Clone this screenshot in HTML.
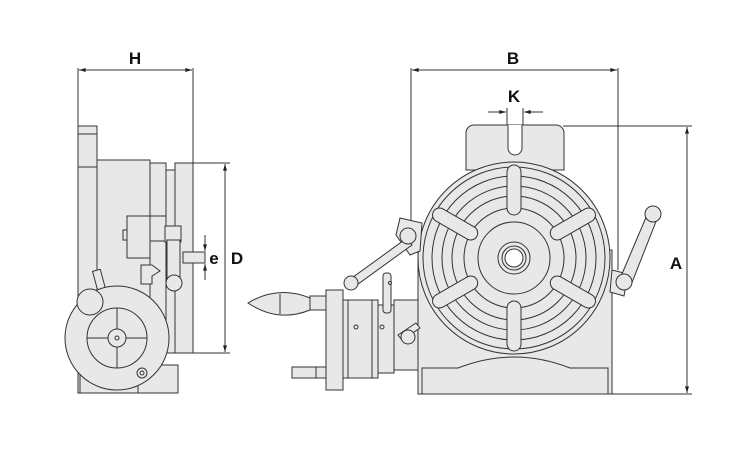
<!DOCTYPE html>
<html><head><style>body{margin:0;background:#fff}svg{display:block}</style></head><body>
<svg width="755" height="467" viewBox="0 0 755 467" xmlns="http://www.w3.org/2000/svg" font-family="Liberation Sans, sans-serif">
<defs><marker id="ar" viewBox="0 0 10 6" refX="10" refY="3" markerWidth="8" markerHeight="4" orient="auto-start-reverse"><path d="M0,0L10,3L0,6z" fill="#222"/></marker></defs>
<g stroke="#333" stroke-width="1" fill="none">
<!-- dims left -->
<line x1="78" y1="68" x2="78" y2="126"/><line x1="193" y1="68" x2="193" y2="163"/>
<line x1="79" y1="70" x2="192" y2="70" marker-start="url(#ar)" marker-end="url(#ar)"/>
<line x1="193" y1="163" x2="230" y2="163"/><line x1="193" y1="353" x2="230" y2="353"/>
<line x1="225" y1="164" x2="225" y2="352" marker-start="url(#ar)" marker-end="url(#ar)"/>
<line x1="205" y1="235" x2="205" y2="251" marker-end="url(#ar)"/><line x1="205" y1="280" x2="205" y2="264" marker-end="url(#ar)"/>
<!-- dims right -->
<line x1="411" y1="68" x2="411" y2="230"/><line x1="618" y1="68" x2="618" y2="270"/>
<line x1="412" y1="70" x2="617" y2="70" marker-start="url(#ar)" marker-end="url(#ar)"/>
<line x1="507" y1="108" x2="507" y2="127"/><line x1="523" y1="108" x2="523" y2="127"/>
<line x1="488" y1="112" x2="506" y2="112" marker-end="url(#ar)"/><line x1="543" y1="112" x2="524" y2="112" marker-end="url(#ar)"/>
<line x1="563" y1="126" x2="692" y2="126"/><line x1="612" y1="394" x2="692" y2="394"/>
<line x1="687" y1="127" x2="687" y2="393" marker-start="url(#ar)" marker-end="url(#ar)"/>
</g>
<g font-weight="bold" font-size="17" fill="#111" text-anchor="middle">
<text x="135" y="64">H</text><text x="513" y="64">B</text><text x="514" y="102">K</text>
<text x="676" y="269">A</text><text x="237" y="264">D</text><text x="214" y="264">e</text>
</g>
<g stroke="#333" stroke-width="1" fill="#e8e8e8">
<!-- LEFT VIEW -->
<rect x="78" y="126" width="19" height="267"/><line x1="78" y1="134" x2="97" y2="134"/><line x1="78" y1="167" x2="97" y2="167"/>
<rect x="97" y="160" width="53" height="233"/>
<rect x="150" y="163" width="16" height="192"/>
<rect x="166" y="170" width="9" height="183"/>
<rect x="175" y="163" width="18" height="190"/>
<rect x="127" y="216" width="23" height="42"/><rect x="123" y="230" width="4" height="10"/>
<rect x="150" y="216" width="16" height="25"/>
<rect x="165" y="226" width="16" height="16"/>
<rect x="167" y="240" width="13" height="46"/>
<circle cx="174" cy="283" r="8"/>
<rect x="183" y="252" width="22" height="11"/>
<path d="M141 265h11l8 6-8 5v8h-11z"/>
<rect x="95" y="270" width="8" height="20" transform="rotate(-15 99 280)"/>
<rect x="138" y="365" width="40" height="28"/><rect x="80" y="365" width="58" height="28"/>
<circle cx="117" cy="338" r="52"/><circle cx="117" cy="338" r="30"/><circle cx="117" cy="338" r="9"/><circle cx="117" cy="338" r="2"/>
<path d="M87 338h21M126 338h21M117 308v21M117 347v21" fill="none"/>
<circle cx="90" cy="302" r="13"/>
<circle cx="142" cy="373" r="5"/><circle cx="142" cy="373" r="2"/>
<!-- RIGHT VIEW -->
<path d="M466 170V133a8 8 0 0 1 8-8h82a8 8 0 0 1 8 8v37z"/>
<path d="M508 125v23a7 7 0 0 0 14 0v-23" fill="#fff"/>
<path d="M418 394V250L612 250V394z"/>
<path d="M422 394V368h36q56 -22 112 0h38v26z"/>
<circle cx="514" cy="258" r="96"/>
<circle cx="514" cy="258" r="91"/>
<g fill="none"><circle cx="514" cy="258" r="82"/><circle cx="514" cy="258" r="72"/><circle cx="514" cy="258" r="62"/><circle cx="514" cy="258" r="50"/><circle cx="514" cy="258" r="36"/></g>
<circle cx="514" cy="258" r="16"/><circle cx="514" cy="258" r="12"/><circle cx="514" cy="258" r="9" fill="#fff"/>
<g fill="#e8e8e8">
<rect x="507" y="165" width="14" height="50" rx="7"/>
<rect x="507" y="165" width="14" height="50" rx="7" transform="rotate(60 514 258)"/>
<rect x="507" y="165" width="14" height="50" rx="7" transform="rotate(120 514 258)"/>
<rect x="507" y="165" width="14" height="50" rx="7" transform="rotate(180 514 258)"/>
<rect x="507" y="165" width="14" height="50" rx="7" transform="rotate(240 514 258)"/>
<rect x="507" y="165" width="14" height="50" rx="7" transform="rotate(300 514 258)"/>
</g>
<path d="M400 218l22 5-2 28-10 4-14-20z"/>
<path d="M349 280l58 -42 5 7 -58 42z"/><circle cx="351" cy="283" r="7"/>
<circle cx="408" cy="236" r="8"/>
<path d="M612 270l16 4-4 22-14-4z"/>
<path d="M619 281l28-66 10 4-26 66z"/><circle cx="653" cy="214" r="8"/>
<circle cx="624" cy="282" r="8"/>
<!-- worm assembly -->
<path d="M248 303q30 -18 62 -5v12q-32 13-62 -7z"/><line x1="280" y1="294" x2="280" y2="314"/>
<rect x="310" y="296" width="16" height="14"/>
<rect x="326" y="290" width="17" height="100"/>
<rect x="343" y="300" width="35" height="78"/><line x1="348" y1="300" x2="348" y2="378"/><line x1="372" y1="300" x2="372" y2="378"/>
<rect x="378" y="305" width="16" height="68"/>
<rect x="394" y="300" width="24" height="70"/>
<rect x="383" y="273" width="8" height="40" rx="3"/>
<path d="M398 335l18-12 4 5-18 12z"/><circle cx="408" cy="337" r="7"/>
<rect x="292" y="367" width="34" height="11"/><line x1="316" y1="367" x2="316" y2="378"/>
<circle cx="356" cy="327" r="2"/><circle cx="382" cy="327" r="2"/><circle cx="390" cy="283" r="1.5"/>
</g>
</svg>
</body></html>
